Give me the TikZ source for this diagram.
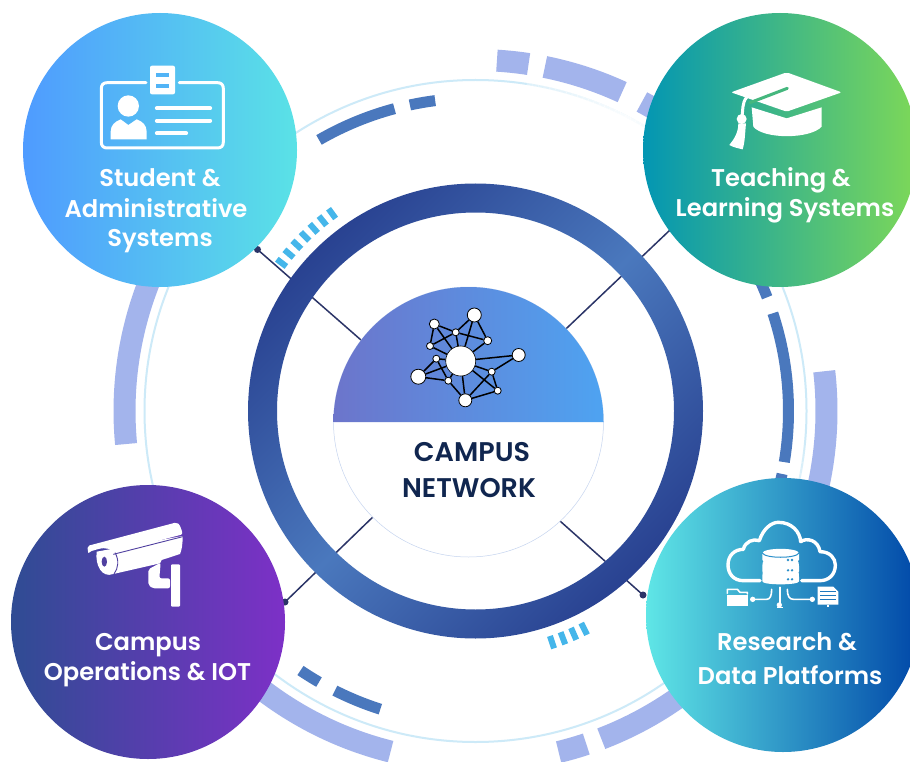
\documentclass[tikz,border=0pt]{standalone}
\usepackage{fontspec}
\setmainfont{Poppins}
\newfontfamily\hubfont{Poppins SemiBold}
\definecolor{lav}{HTML}{A3B4EC}
\definecolor{midblue}{HTML}{4A78BD}
\definecolor{tick}{HTML}{45B6EA}
\definecolor{thinring}{HTML}{CDEAF8}
\definecolor{navy}{HTML}{2B3467}
\definecolor{hubtext}{HTML}{10264F}
\definecolor{ringdark}{HTML}{294291}
\definecolor{idhole}{HTML}{52B4F6}
\definecolor{camhole}{HTML}{5040A0}
\definecolor{datahole}{HTML}{2A8FCA}
\tikzset{
 lavarc/.style={draw=lav,line width=22pt},
 midarc/.style={draw=midblue,line width=11pt},
 tickmark/.style={draw=tick,line width=6pt},
 spoke/.style={draw=navy,line width=1.5pt},
 spotdot/.style={circle,fill=navy,inner sep=0pt,minimum size=7pt},
 bigdisc/.style={circle,inner sep=0pt,minimum size=274pt},
 disclabel/.style={text=white,font=\hubfont\fontsize{24.2}{28}\selectfont,anchor=base,inner sep=0pt},
 hublabel/.style={text=hubtext,font=\hubfont\fontsize{27}{36}\selectfont,anchor=base,inner sep=0pt},
 net/.style={circle,draw=black,fill=white,line width=0.8pt,inner sep=0pt},
 netedge/.style={draw=black,line width=1.5pt},
 iconline/.style={draw=white,line cap=round,line join=round},
 zoomA/.style={x=0.33333pt,y=-0.33333pt}
}
\newcommand{\ringarc}[4]{\draw[#1] (#2:#4pt) arc[start angle=#2,end angle=#3,radius=#4pt];}
\begin{document}
\begin{tikzpicture}[x=1pt,y=1pt]
\path[use as bounding box,clip] (0,0) rectangle (910,-762);
\fill[white] (0,0) rectangle (910,-762);

% rings of segments
\begin{scope}[shift={(475.5,-411)}]
 \foreach \a/\b in {86.5/81.3,78.6/65.3,61.7/45,6.5/-30,-40/-69,-71.6/-76.3,225/256,150/185.4}
   {\ringarc{lavarc}{\a}{\b}{351}}
 \draw[thinring,line width=2pt] (0,0) circle[radius=331pt];
 % fading parts of the thin ring
 \foreach \a [evaluate=\a as \w using {min(100,abs(\a-62)*3.5)}] in {44,45,...,80}
   {\draw[white,line width=2.6pt,draw opacity=0.9-0.9*\w/100] (\a:331pt) arc[start angle=\a,end angle=\a+1.1,radius=331pt];}
 \foreach \a [evaluate=\a as \w using {min(100,abs(\a+22)*6)}] in {-40,-39,...,-6}
   {\draw[white,line width=2.6pt,draw opacity=0.9-0.9*\w/100] (\a:331pt) arc[start angle=\a,end angle=\a+1.1,radius=331pt];}
 \foreach \a/\b in {97.4/102.1,105/120,30/21.3,18.2/-9.4,-11.6/-25,243.3/252.3,236/240}
   {\ringarc{midarc}{\a}{\b}{313}}
 \foreach \a in {126,128.77,...,143}
   {\draw[tickmark] (\a:238pt) -- (\a:250pt);}
 \foreach \a in {-63.5,-66.23,...,-72}
   {\draw[tickmark] (\a:237pt) -- (\a:250pt);}
\end{scope}

% spokes
\node[spotdot] (spotul) at (257.5,-249.5) {};
\node[spotdot] (spotll) at (285,-602) {};
\node[spotdot] (spotlr) at (643,-595) {};
\coordinate (spotur) at (690,-211);
\coordinate (hubul) at (468,-433.6);
\coordinate (hubur) at (468,-422);
\coordinate (hubll) at (468,-425);
\coordinate (hublr) at (468,-439);
\draw[spoke] (spotul.center) -- (hubul);
\draw[spoke] (spotur) -- (hubur);
\draw[spoke] (spotll.center) -- (hubll);
\draw[spoke] (spotlr.center) -- (hublr);

% main ring
\path[even odd rule,left color=ringdark,right color=ringdark,middle color=midblue,shading angle=45]
  (475.5,-411) circle[radius=227.5pt] (475.5,-411) circle[radius=198.5pt];

% central circle
\fill[white,draw={rgb,255:red,197;green,212;blue,239},line width=0.5pt] (468.5,-422) circle[radius=135pt];
\path[left color={rgb,255:red,108;green,117;blue,203},right color={rgb,255:red,78;green,163;blue,241}]
  (333.5,-422) arc[start angle=180,end angle=0,radius=135pt] -- cycle;

% network
\node[net,minimum size=30pt,line width=0.6pt] (H) at (460.7,-361) {};
\node[net,minimum size=14pt] (n1) at (474.3,-315) {};
\node[net,minimum size=10pt] (n2) at (434.3,-324) {};
\node[net,minimum size=7pt] (n3) at (455.7,-332.3) {};
\node[net,minimum size=8pt] (n4) at (487.7,-340.7) {};
\node[net,minimum size=7pt] (n5) at (430,-346) {};
\node[net,minimum size=13pt] (n6) at (518.7,-355) {};
\node[net,minimum size=7pt] (n7) at (436.3,-358.7) {};
\node[net,minimum size=7pt] (n8) at (491.7,-371.7) {};
\node[net,minimum size=15pt] (n9) at (418.3,-376.7) {};
\node[net,minimum size=7pt] (n10) at (448.3,-380.7) {};
\node[net,minimum size=7pt] (n11) at (497.7,-390.7) {};
\node[net,minimum size=13pt] (n12) at (465.3,-400.3) {};
\foreach \p/\q in {n2/n3,n2/n5,n2/H,n3/n1,n3/H,n3/n4,n3/n5,n1/H,n1/n4,n4/H,n5/H,n6/H,n6/n8,n8/H,n8/n11,n8/n12,H/n11,H/n12,n11/n12,n10/n12,n10/H,n10/n7,n10/n9,n9/n7,n9/H,n7/H}
  {\draw[netedge] (\p) -- (\q);}

\node[hublabel] (hubt1) at (472,-461) {CAMPUS};
\node[hublabel] (hubt2) at (469,-497) {NETWORK};

% four big discs
\node[bigdisc,left color={rgb,255:red,79;green,155;blue,255},right color={rgb,255:red,90;green,226;blue,230}] (stu) at (160,-150) {};
\node[bigdisc,left color={rgb,255:red,3;green,150;blue,179},right color={rgb,255:red,125;green,216;blue,88}] (tea) at (780,-150) {};
\node[bigdisc,left color={rgb,255:red,47;green,76;blue,147},right color={rgb,255:red,125;green,48;blue,199}] (ops) at (148,-622) {};
\node[bigdisc,left color={rgb,255:red,95;green,230;blue,230},right color={rgb,255:red,0;green,71;blue,168}] (res) at (783,-615) {};

\node[disclabel] (l1a) at (160,-187) {Student \&};
\node[disclabel] (l1b) at (156,-218) {Administrative};
\node[disclabel] (l1c) at (160,-247) {Systems};
\node[disclabel] (l2a) at (781,-187) {Teaching \&};
\node[disclabel] (l2b) at (785,-217) {Learning Systems};
\node[disclabel] (l3a) at (148,-650) {Campus};
\node[disclabel] (l3b) at (147.5,-680) {Operations \& IOT};
\node[disclabel] (l4a) at (787,-650) {Research \&};
\node[disclabel] (l4b) at (790,-684) {Data Platforms};

% ID card icon
\begin{scope}[shift={(80,-50)},zoomA]
 \draw[iconline,line width=3pt] (198,98) -- (82,98) .. controls (70,98) and (64,104) .. (64,116) -- (64,276) .. controls (64,288) and (70,294) .. (82,294) -- (412,294) .. controls (424,294) and (430,288) .. (430,276) -- (430,116) .. controls (430,104) and (424,98) .. (412,98) -- (298,98);
 \fill[white,rounded corners=2pt] (210,47) rectangle (285,133);
 \fill[idhole] (227,70) rectangle (268,82);
 \fill[idhole] (227,103) rectangle (268,115);
 \fill[white] (145,168) circle[radius=32];
 \fill[white] (92,268) -- (92,245) .. controls (92,225) and (105,215) .. (122,208) -- (145,225) -- (170,208) .. controls (188,215) and (200,225) .. (200,245) -- (200,268) -- cycle;
 \draw[iconline,line width=4.3pt] (231,175) -- (390,175);
 \draw[iconline,line width=4.3pt] (231,212) -- (390,212);
 \draw[iconline,line width=4.3pt] (231,250) -- (318,250);
\end{scope}

% graduation cap icon
\begin{scope}[shift={(700,-60)},zoomA]
 \fill[white] (155,142) -- (260,175) -- (365,142) -- (365,200) .. controls (330,238) and (190,238) .. (160,200) -- cycle;
 \fill[white,rounded corners=2pt] (260,37) -- (425,97) -- (260,155) -- (93,97) -- cycle;
 \draw[line width=3pt,draw={rgb,255:red,69;green,183;blue,126},line cap=round] (262,85) -- (150,128);
 \draw[white,line width=3pt] (140,112) .. controls (125,130) and (130,150) .. (125,175);
 \fill[white] (125,177) circle[radius=15];
 \fill[white] (115,190) -- (138,190) .. controls (135,220) and (135,245) .. (128,268) .. controls (115,265) and (100,262) .. (88,255) .. controls (100,240) and (115,220) .. (115,190) -- cycle;
\end{scope}

% camera icon
\begin{scope}[shift={(70,-510)},zoomA]
 \fill[white] (80,125) -- (338,78) .. controls (338,105) and (335,120) .. (330,132) -- (275,150) -- (270,160) -- (130,192) .. controls (95,205) and (75,165) .. (80,125) -- cycle;
 \draw[line width=0.9pt,draw=camhole] (130,133) -- (338,80);
 \fill[white,rounded corners=2pt] (52,108) -- (320,37) .. controls (330,45) and (335,60) .. (338,73) -- (140,125) .. controls (125,118) and (100,112) .. (85,118) .. controls (70,120) and (60,125) .. (55,132) -- cycle;
 \draw[line width=0.9pt,draw=camhole] (135,128) .. controls (148,150) and (145,175) .. (132,192);
 \fill[camhole] (103,155) ellipse[x radius=8,y radius=15];
 \fill[white,rounded corners=2pt] (235,178) -- (272,158) -- (268,205) -- (300,205) -- (300,235) -- (248,235) -- (235,225) -- cycle;
 \fill[white,rounded corners=1pt] (303,163) rectangle (330,290);
\end{scope}

% cloud and data icon
\begin{scope}[shift={(710,-510)},zoomA]
 \draw[iconline,line width=3.4pt] (150,212) -- (100,212) .. controls (70,212) and (54,190) .. (54,165) .. controls (54,135) and (75,118) .. (100,118) .. controls (105,95) and (130,85) .. (148,92) .. controls (160,55) and (185,37) .. (205,37) .. controls (245,37) and (270,65) .. (272,95) .. controls (290,82) and (325,90) .. (330,125) .. controls (360,125) and (376,145) .. (376,165) .. controls (376,195) and (355,212) .. (330,212) -- (275,212);
 \foreach \t/\b in {130/150,168/184,200/214}
   {\fill[white] (157,\t) .. controls (157,112) and (267,112) .. (267,\t) -- (267,\b) .. controls (267,\b+12) and (157,\b+12) .. (157,\b) -- cycle;}
 \draw[line width=1pt,draw=datahole] (157,129) .. controls (165,146) and (259,146) .. (267,129);
 \foreach \y in {150,181,208}
   {\fill[datahole] (234,\y) circle[radius=4];\fill[datahole] (246,\y) circle[radius=4];}
 \draw[iconline,line width=1.6pt] (130,268) -- (170,268) .. controls (180,268) and (185,258) .. (185,238);
 \draw[iconline,line width=1.6pt] (210,232) -- (210,288);
 \draw[iconline,line width=1.6pt] (232,238) .. controls (232,258) and (238,268) .. (250,268) -- (305,268);
 \fill[white] (128,268) circle[radius=8];
 \fill[white] (307,268) circle[radius=8];
 \fill[white] (200,292) rectangle (220,295);
 \fill[white] (208,285) circle[radius=8];
 % folder
 \draw[iconline,line width=1.6pt] (52,250) -- (52,238) -- (82,238) -- (90,247) -- (112,247) -- (112,252);
 \fill[white] (52,254) -- (115,254) -- (115,288) -- (52,288) -- cycle;
 % document
 \fill[white] (323,230) -- (370,230) -- (385,245) -- (385,284) -- (323,284) -- cycle;
 \foreach \y in {245,256,267}
   {\draw[line width=0.8pt,draw={rgb,255:red,30;green,120;blue,190}] (330,\y) -- (378,\y);}
 \fill[white] (350,284) rectangle (358,291);
\end{scope}
\end{tikzpicture}
\end{document}
